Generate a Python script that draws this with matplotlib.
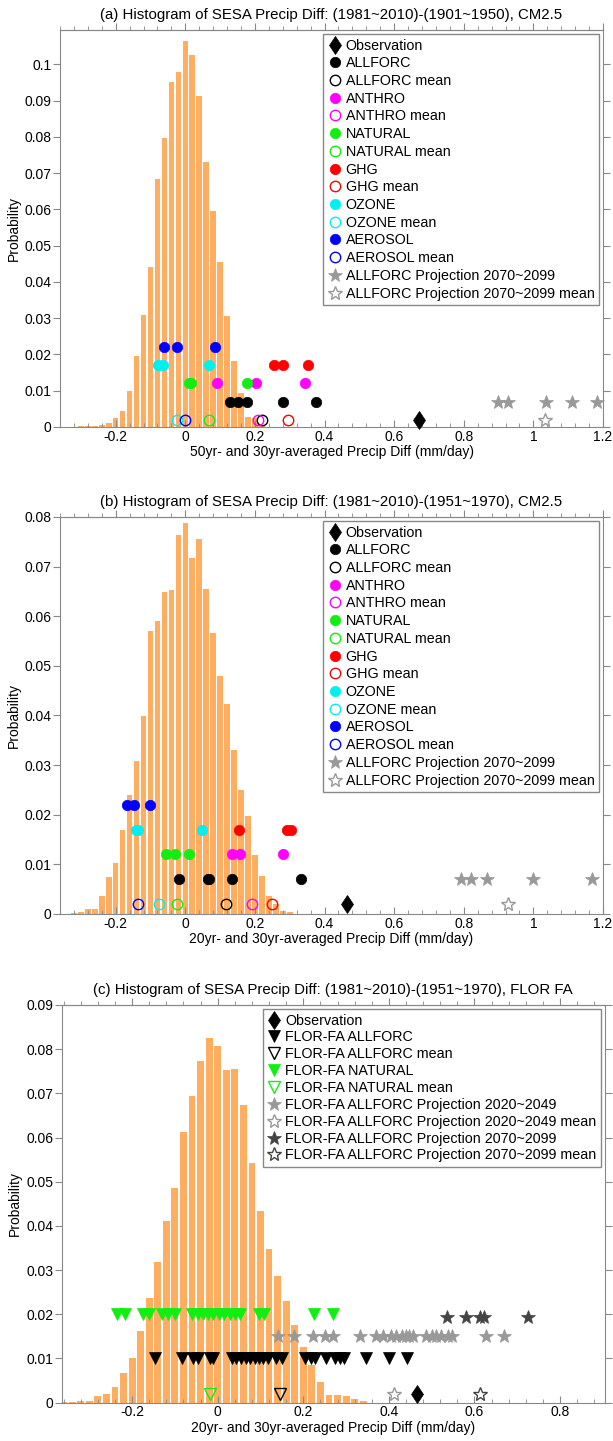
import matplotlib
matplotlib.use("Agg")
import matplotlib.pyplot as plt
from matplotlib.ticker import MultipleLocator, FuncFormatter

plt.rcParams['font.family'] = ['Liberation Sans', 'DejaVu Sans']

# histogram bins (centres, mm/day) shared by the three panels
bin_centers = [-0.36, -0.34, -0.32, -0.30, -0.28, -0.26, -0.24, -0.22, -0.20, -0.18,
               -0.16, -0.14, -0.12, -0.10, -0.08, -0.06, -0.04, -0.02, 0.00, 0.02,
               0.04, 0.06, 0.08, 0.10, 0.12, 0.14, 0.16, 0.18, 0.20, 0.22,
               0.24, 0.26, 0.28, 0.30, 0.32, 0.34]

hist_a = [0, 0, 0, 0.0002, 0.0002, 0.0002, 0.0005, 0.0011, 0.0024, 0.0045,
          0.0100, 0.0197, 0.0310, 0.0440, 0.0683, 0.0797, 0.0952, 0.0980, 0.1064, 0.1025,
          0.0914, 0.0731, 0.0596, 0.0455, 0.0305, 0.0181, 0.0093, 0.0028, 0.0025, 0.0003,
          0, 0, 0, 0, 0, 0]
hist_b = [0, 0, 0.0002, 0.0005, 0.0011, 0.0011, 0.0036, 0.0074, 0.0102, 0.0169,
          0.0240, 0.0309, 0.0398, 0.0570, 0.0591, 0.0649, 0.0652, 0.0764, 0.0787, 0.0717,
          0.0756, 0.0654, 0.0566, 0.0480, 0.0423, 0.0331, 0.0249, 0.0198, 0.0118, 0.0076,
          0.0037, 0.0021, 0.0006, 0.0004, 0, 0]
hist_c = [0.0002, 0.0002, 0.0003, 0.0003, 0.0015, 0.0020, 0.0035, 0.0066, 0.0101, 0.0162,
          0.0237, 0.0319, 0.0410, 0.0485, 0.0613, 0.0694, 0.0774, 0.0826, 0.0807, 0.0753,
          0.0754, 0.0673, 0.0543, 0.0434, 0.0348, 0.0287, 0.0229, 0.0175, 0.0125, 0.0086,
          0.0046, 0.0018, 0.0016, 0.0014, 0.0008, 0.0004]

# panel (a): CM2.5, (1981~2010)-(1901~1950)
obs_a = [0.670]
allforc_a = [0.129, 0.151, 0.176, 0.280, 0.376]
allforc_mean_a = [0.220]
anthro_a = [0.091, 0.204, 0.343]
anthro_mean_a = [0.210]
natural_a = [0.010, 0.016, 0.178]
natural_mean_a = [0.068]
ghg_a = [0.255, 0.280, 0.353]
ghg_mean_a = [0.296]
ozone_a = [-0.078, -0.063, 0.068]
ozone_mean_a = [-0.024]
aerosol_a = [-0.062, -0.023, 0.085]
aerosol_mean_a = [-0.002]
proj_a = [0.899, 0.928, 1.037, 1.110, 1.182]
proj_mean_a = [1.032]

# panel (b): CM2.5, (1981~2010)-(1951~1970)
obs_b = [0.464]
allforc_b = [-0.018, 0.065, 0.069, 0.133, 0.332]
allforc_mean_b = [0.116]
anthro_b = [0.134, 0.158, 0.282]
anthro_mean_b = [0.193]
natural_b = [-0.055, -0.029, 0.012]
natural_mean_b = [-0.023]
ghg_b = [0.154, 0.292, 0.303]
ghg_mean_b = [0.249]
ozone_b = [-0.143, -0.136, 0.049]
ozone_mean_b = [-0.077]
aerosol_b = [-0.168, -0.148, -0.100]
aerosol_mean_b = [-0.137]
proj_b = [0.793, 0.821, 0.866, 0.998, 1.167]
proj_mean_b = [0.928]

# panel (c): FLOR FA, (1981~2010)-(1951~1970)
obs_c = [0.465]
flor_allforc = [-0.146, -0.084, -0.057, -0.045, -0.019, -0.011, 0.033, 0.043, 0.054,
                0.065, 0.076, 0.087, 0.097, 0.106, 0.117, 0.137, 0.150, 0.204, 0.217,
                0.228, 0.252, 0.274, 0.285, 0.294, 0.346, 0.400, 0.443]
flor_allforc_mean = [0.145]
flor_natural = [-0.235, -0.216, -0.174, -0.161, -0.130, -0.115, -0.100, -0.060, -0.047,
                -0.035, -0.022, -0.010, 0.003, 0.015, 0.028, 0.040, 0.053, 0.096, 0.109,
                0.224, 0.270]
flor_natural_mean = [-0.017]
flor_proj20 = [0.141, 0.178, 0.222, 0.250, 0.270, 0.333, 0.370, 0.387, 0.404, 0.417,
               0.430, 0.439, 0.448, 0.457, 0.487, 0.500, 0.509, 0.522, 0.539, 0.548,
               0.626, 0.670]
flor_proj20_mean = [0.413]
flor_proj70 = [0.535, 0.581, 0.613, 0.622, 0.726]
flor_proj70_mean = [0.613]

# y levels at which the marker rows are drawn
lvl_mean, lvl_allforc, lvl_nat, lvl_ghg, lvl_aer = 0.002, 0.007, 0.012, 0.017, 0.022
lvl_c_mean, lvl_c_allforc, lvl_c_proj20, lvl_c_top = 0.002, 0.010, 0.015, 0.020

BAR = '#FFAD60'
GRID = '#888888'
GREEN = '#11EE11'
MAG = '#FF00FF'
CYAN = '#00F0F0'
LGRAY = '#999999'
DGRAY = '#444444'

fig = plt.figure(figsize=(6.13, 14.41), dpi=100)


def marks(ax, xs, y, label, marker, color, filled=True, ms=7.5):
    ax.plot(xs, [y] * len(xs), ls='none', marker=marker, ms=ms,
            mfc=color if filled else 'none', mec=color,
            mew=0.5 if filled else 1.0, label=label, zorder=3, clip_on=False)


def style(ax, xlim, ylim, title, xlabel):
    ax.set_xlim(*xlim)
    ax.set_ylim(*ylim)
    fmt = FuncFormatter(lambda v, p: f'{v:g}')
    ax.xaxis.set_major_locator(MultipleLocator(0.2))
    ax.xaxis.set_minor_locator(MultipleLocator(0.04))
    ax.xaxis.set_major_formatter(fmt)
    ax.yaxis.set_major_locator(MultipleLocator(0.01))
    ax.yaxis.set_major_formatter(fmt)
    for s in ax.spines.values():
        s.set_color(GRID)
    ax.tick_params(axis='x', which='major', direction='in', length=5, color=GRID,
                   labelsize=10, pad=2)
    ax.tick_params(axis='x', which='minor', direction='in', length=3, color=GRID)
    ax.tick_params(axis='y', direction='out', length=5, color=GRID, right=True,
                   labelsize=10, pad=1)
    top = ax.secondary_xaxis('top')
    top.xaxis.set_major_locator(MultipleLocator(0.2))
    top.xaxis.set_minor_locator(MultipleLocator(0.04))
    top.tick_params(axis='x', which='major', direction='out', length=5, color=GRID,
                    labeltop=False)
    top.tick_params(axis='x', which='minor', direction='out', length=3, color=GRID)
    top.spines['top'].set_color(GRID)
    ax.set_title(title, fontsize=10.8, pad=8)
    ax.set_xlabel(xlabel, fontsize=10, labelpad=1)
    ax.set_ylabel('Probability', fontsize=10, labelpad=3)


def legend(ax, spacing):
    lg = ax.legend(loc='upper right', bbox_to_anchor=(1.0, 1.0), borderaxespad=0.3,
                   fontsize=10.3, labelspacing=spacing, handletextpad=0.25,
                   handlelength=1.0, borderpad=0.3, fancybox=False, framealpha=1,
                   edgecolor=GRID)
    lg.get_frame().set_linewidth(1.0)


def cm25_panel(ax, hist, d):
    ax.bar(bin_centers, hist, width=0.016, color=BAR, zorder=1)
    marks(ax, d['obs'], lvl_mean, 'Observation', 'd', 'black', ms=9.5)
    marks(ax, d['allforc'], lvl_allforc, 'ALLFORC', 'o', 'black')
    marks(ax, d['allforc_mean'], lvl_mean, 'ALLFORC mean', 'o', 'black', False)
    marks(ax, d['anthro'], lvl_nat, 'ANTHRO', 'o', MAG)
    marks(ax, d['anthro_mean'], lvl_mean, 'ANTHRO mean', 'o', MAG, False)
    marks(ax, d['natural'], lvl_nat, 'NATURAL', 'o', GREEN)
    marks(ax, d['natural_mean'], lvl_mean, 'NATURAL mean', 'o', GREEN, False)
    marks(ax, d['ghg'], lvl_ghg, 'GHG', 'o', 'red')
    marks(ax, d['ghg_mean'], lvl_mean, 'GHG mean', 'o', 'red', False)
    marks(ax, d['ozone'], lvl_ghg, 'OZONE', 'o', CYAN)
    marks(ax, d['ozone_mean'], lvl_mean, 'OZONE mean', 'o', CYAN, False)
    marks(ax, d['aerosol'], lvl_aer, 'AEROSOL', 'o', 'blue')
    marks(ax, d['aerosol_mean'], lvl_mean, 'AEROSOL mean', 'o', 'blue', False)
    marks(ax, d['proj'], lvl_allforc, 'ALLFORC Projection 2070~2099', '*', LGRAY, ms=10)
    marks(ax, d['proj_mean'], lvl_mean, 'ALLFORC Projection 2070~2099 mean', '*', LGRAY,
          False, ms=10)
    legend(ax, 0.26)


ax_a = fig.add_axes([60 / 613, 1 - 427 / 1441, 543 / 613, 397 / 1441])
cm25_panel(ax_a, hist_a, dict(obs=obs_a, allforc=allforc_a, allforc_mean=allforc_mean_a,
                              anthro=anthro_a, anthro_mean=anthro_mean_a,
                              natural=natural_a, natural_mean=natural_mean_a,
                              ghg=ghg_a, ghg_mean=ghg_mean_a, ozone=ozone_a,
                              ozone_mean=ozone_mean_a, aerosol=aerosol_a,
                              aerosol_mean=aerosol_mean_a, proj=proj_a,
                              proj_mean=proj_mean_a))
style(ax_a, (-0.36, 1.2), (0, 0.1095),
      '(a) Histogram of SESA Precip Diff: (1981~2010)-(1901~1950), CM2.5',
      '50yr- and 30yr-averaged Precip Diff (mm/day)')

ax_b = fig.add_axes([60 / 613, 1 - 914 / 1441, 543 / 613, 397 / 1441])
cm25_panel(ax_b, hist_b, dict(obs=obs_b, allforc=allforc_b, allforc_mean=allforc_mean_b,
                              anthro=anthro_b, anthro_mean=anthro_mean_b,
                              natural=natural_b, natural_mean=natural_mean_b,
                              ghg=ghg_b, ghg_mean=ghg_mean_b, ozone=ozone_b,
                              ozone_mean=ozone_mean_b, aerosol=aerosol_b,
                              aerosol_mean=aerosol_mean_b, proj=proj_b,
                              proj_mean=proj_mean_b))
style(ax_b, (-0.36, 1.2), (0, 0.08),
      '(b) Histogram of SESA Precip Diff: (1981~2010)-(1951~1970), CM2.5',
      '20yr- and 30yr-averaged Precip Diff (mm/day)')

ax_c = fig.add_axes([61.5 / 613, 1 - 1402.5 / 1441, 543.5 / 613, 397.5 / 1441])
ax_c.bar(bin_centers, hist_c, width=0.016, color=BAR, zorder=1)
marks(ax_c, obs_c, lvl_c_mean, 'Observation', 'd', 'black', ms=9.5)
marks(ax_c, flor_allforc, lvl_c_allforc, 'FLOR-FA ALLFORC', 'v', 'black', ms=8)
marks(ax_c, flor_allforc_mean, lvl_c_mean, 'FLOR-FA ALLFORC mean', 'v', 'black', False, ms=8)
marks(ax_c, flor_natural, lvl_c_top, 'FLOR-FA NATURAL', 'v', GREEN, ms=8)
marks(ax_c, flor_natural_mean, lvl_c_mean, 'FLOR-FA NATURAL mean', 'v', GREEN, False, ms=8)
marks(ax_c, flor_proj20, lvl_c_proj20, 'FLOR-FA ALLFORC Projection 2020~2049', '*', LGRAY, ms=10)
marks(ax_c, flor_proj20_mean, lvl_c_mean, 'FLOR-FA ALLFORC Projection 2020~2049 mean', '*',
      LGRAY, False, ms=10)
marks(ax_c, flor_proj70, lvl_c_top - 0.0007, 'FLOR-FA ALLFORC Projection 2070~2099', '*',
      DGRAY, ms=10)
marks(ax_c, flor_proj70_mean, lvl_c_mean, 'FLOR-FA ALLFORC Projection 2070~2099 mean', '*',
      DGRAY, False, ms=10)
legend(ax_c, 0.2)
style(ax_c, (-0.365, 0.905), (0, 0.09),
      '(c) Histogram of SESA Precip Diff: (1981~2010)-(1951~1970), FLOR FA',
      '20yr- and 30yr-averaged Precip Diff (mm/day)')

fig.savefig('out.png', dpi=100)
